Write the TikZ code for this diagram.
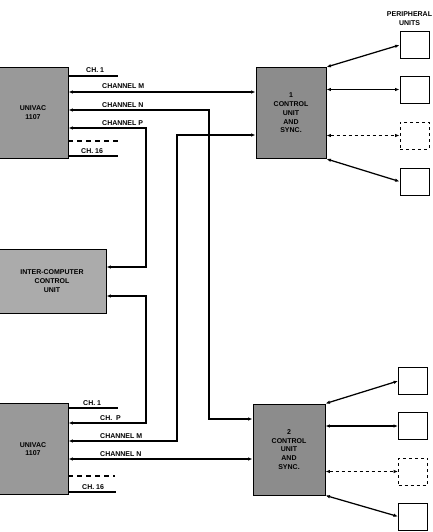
\documentclass[tikz,border=0pt]{standalone}
\usepackage{fontspec}
\setsansfont{Liberation Sans}
\usetikzlibrary{arrows.meta,positioning}
\colorlet{univacGray}{black!40}
\colorlet{controlGray}{black!45}
\colorlet{linkGray}{black!33}
\tikzset{
  >=Latex,
  font=\sffamily\bfseries\fontsize{7}{8.8}\selectfont,
  % shaded units: computers, control units, inter-computer link
  unitbox/.style={
    draw=black,
    line width=0.9pt,
    fill=#1,
    align=center,
    minimum width=70pt,
    minimum height=91pt,
    inner sep=0pt
  },
  unitbox/.default=univacGray,
  periph/.style={
    draw=black,
    line width=0.9pt,
    fill=white,
    minimum width=29pt,
    minimum height=27pt,
    inner sep=0pt
  },
  chan/.style={
    line width=1.25pt,
    draw=black
  },
  biarrow/.style={
    {Latex[length=4.5pt,width=3.5pt]}-{Latex[length=4.5pt,width=3.5pt]},
    line width=1.25pt,
    draw=black
  },
  chlabel/.style={
    anchor=base west,
    inner sep=0pt
  }
}
\begin{document}
\begin{tikzpicture}[x=1pt,y=-1pt]
\useasboundingbox (0,0) rectangle (432,532);

\node[unitbox] (univacA) at (33,112.5) {UNIVAC\\1107};
\node[unitbox=linkGray, minimum width=108pt, minimum height=64pt] (iccu) at (52,281) {INTER-COMPUTER\\CONTROL\\UNIT};
\node[unitbox] (univacB) at (33,449) {UNIVAC\\1107};
\node[unitbox=controlGray] (cuOne) at (291,113) {1\\CONTROL\\UNIT\\AND\\SYNC.};
\node[unitbox=controlGray, minimum width=72pt] (cuTwo) at (289,449.5) {2\\CONTROL\\UNIT\\AND\\SYNC.};

% peripheral units
\node[align=center] (periphLab) at (409.5,19) {PERIPHERAL\\UNITS};
\node[periph] (puA1) at (414.5,45) {};
\node[periph] (puA2) at (414.5,89.5) {};
\node[periph, dashed] (puA3) at (414.5,135.5) {};
\node[periph] (puA4) at (414.5,181.5) {};
\node[periph] (puB1) at (413,381) {};
\node[periph] (puB2) at (413,426) {};
\node[periph, dashed] (puB3) at (413,471.5) {};
\node[periph] (puB4) at (413,516.5) {};

\draw[biarrow] (cuOne.north east) -- (puA1.west);
\draw[biarrow] (puA2.west -| cuOne.east) -- (puA2.west);
\draw[biarrow, dashed] (puA3.west -| cuOne.east) -- (puA3.west);
\draw[biarrow] (cuOne.south east) -- (puA4.west);
\draw[biarrow] (cuTwo.north east) -- (puB1.west);
\draw[biarrow] (puB2.west -| cuTwo.east) -- (puB2.west);
\draw[biarrow, dashed] (puB3.west -| cuTwo.east) -- (puB3.west);
\draw[biarrow] (cuTwo.south east) -- (puB4.west);

% first computer channels
\coordinate (aCh1) at (118,76);
\coordinate (aDash) at (118,141);
\coordinate (aCh16) at (118,156);
\draw[chan] (aCh1 -| univacA.east) -- (aCh1);
\draw[chan, dashed, dash pattern=on 5pt off 4pt] (aDash -| univacA.east) -- (aDash);
\draw[chan] (aCh16 -| univacA.east) -- (aCh16);
\node[chlabel] (aCh1Lab) at (86,73) {CH. 1};
\node[chlabel] (aMLab) at (102,89) {CHANNEL M};
\node[chlabel] (aNLab) at (102,107) {CHANNEL N};
\node[chlabel] (aPLab) at (102,125) {CHANNEL P};
\node[chlabel] (aCh16Lab) at (81,153) {CH. 16};

\coordinate (aM) at (0,92);
\coordinate (aN) at (209,110);
\coordinate (aP) at (146,128);
\coordinate (twoN) at (0,419);
\coordinate (iccuA) at (0,267);
\draw[biarrow] (aM -| univacA.east) -- (aM -| cuOne.west);
\draw[biarrow] (aN -| univacA.east) -- (aN) |- (twoN -| cuTwo.west);
\draw[biarrow] (aP -| univacA.east) -- (aP) |- (iccuA -| iccu.east);

% second computer channels
\coordinate (bCh1) at (118,408);
\coordinate (bDash) at (115,476);
\coordinate (bCh16) at (116,492);
\draw[chan] (bCh1 -| univacB.east) -- (bCh1);
\draw[chan, dashed, dash pattern=on 5pt off 4pt] (bDash -| univacB.east) -- (bDash);
\draw[chan] (bCh16 -| univacB.east) -- (bCh16);
\node[chlabel] (bCh1Lab) at (83,405) {CH. 1};
\node[chlabel] (bPLab) at (100,420) {CH.~~P};
\node[chlabel] (bMLab) at (100,438) {CHANNEL M};
\node[chlabel] (bNLab) at (100,456) {CHANNEL N};
\node[chlabel] (bCh16Lab) at (82,489) {CH. 16};

\coordinate (bP) at (146,423);
\coordinate (bM) at (177,441);
\coordinate (bN) at (0,459);
\coordinate (iccuB) at (0,296);
\coordinate (oneM) at (0,135);
\draw[biarrow] (bP -| univacB.east) -- (bP) |- (iccuB -| iccu.east);
\draw[biarrow] (bM -| univacB.east) -- (bM) |- (oneM -| cuOne.west);
\draw[biarrow] (bN -| univacB.east) -- (bN -| cuTwo.west);

\end{tikzpicture}
\end{document}
